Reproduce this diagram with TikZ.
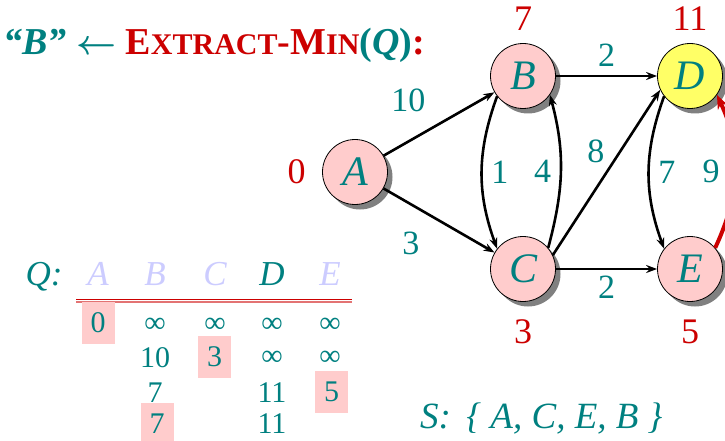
\documentclass[tikz,border=0pt]{standalone}
\usepackage{fontspec}
\setmainfont{Liberation Serif}
\usepackage{tikz}
\usetikzlibrary{arrows.meta, positioning, shadows}
\definecolor{djteal}{RGB}{0,128,128}
\definecolor{djred}{RGB}{204,0,0}
\definecolor{djpink}{RGB}{255,204,204}
\definecolor{djyellow}{RGB}{255,255,102}
\definecolor{djlav}{RGB}{204,204,255}
\newcommand{\fsz}[1]{\fontsize{#1}{#1}\selectfont}
\tikzset{
  %% ---- graph ----
  vertex/.style  = {circle, draw=black, line width=0.8pt,
                    fill=#1, minimum size=65pt, inner sep=0pt,
                    text=djteal, font=\fsz{42}\itshape,
                    drop shadow={shadow xshift=5pt, shadow yshift=-5pt,
                                 fill=gray, opacity=1}},
  vertex/.default = djpink,
  dist/.style    = {text=djred, font=\fsz{36}},
  weight/.style  = {text=djteal, font=\fsz{34}},
  %% ---- queue table ----
  qhead/.style   = {text=#1, font=\fsz{35}\itshape, anchor=base},
  qhead/.default = djlav,
  qval/.style    = {text=djteal, font=\fsz{30}, inner sep=0pt,
                    minimum width=33pt, minimum height=42pt},
  qpick/.style   = {qval, fill=djpink},
  %% ---- arrows ----
  warrow/.style  = {-{Stealth[length=11pt, width=8pt]}, line width=2.6pt},
  redarrow/.style= {-{Stealth[length=14pt, width=11pt]}, line width=4pt,
                    color=djred},
}
\begin{document}
\begin{tikzpicture}[x=1pt, y=1pt]
\useasboundingbox (0,0) rectangle (725,440);
% title
\node[anchor=base west, inner sep=0pt, font=\fsz{38}\bfseries] (title) at (3,385)
  {\textcolor{djteal}{\itshape “B”} \textcolor{djteal}{\scalebox{1.4}{\boldmath$\leftarrow$}}
   \textcolor{djred}{E{\fsz{30}XTRACT}-M{\fsz{30}IN}}\textcolor{djteal}{(\textit{Q})}\textcolor{djred}{:}};
% graph
\node[vertex] (A) at (355,268) {A};
\node[vertex] (B) at (523,364) {B};
\node[vertex] (C) at (523,171) {C};
\node[vertex=djyellow] (D) at (690,364) {D};
\node[vertex] (E) at (690,171) {E};
\node[dist, left=13pt of A]  (dA) {0};
\node[dist, above=9pt of B]  (dB) {7};
\node[dist, below=14pt of C] (dC) {3};
\node[dist, above=9pt of D]  (dD) {11};
\node[dist, below=14pt of E] (dE) {5};
\draw[warrow] (A) -- node[weight, pos=0.385, xshift=-18pt, yshift=31pt]{10} (B);
\draw[warrow] (A) -- node[weight, pos=0.4, xshift=-17pt, yshift=-29pt]{3} (C);
\draw[warrow] (B) -- node[weight, yshift=21pt]{2} (D);
\draw[warrow] (C) -- node[weight, yshift=-18pt]{2} (E);
\draw[warrow] (C.25) -- node[weight, pos=0.56, xshift=-17pt, yshift=11pt]{8} (D.205);
\draw[warrow] (B.218) to[out=250, in=110] node[weight, xshift=18pt]{1} (C.142);
\draw[warrow] (C.40) to[out=75, in=285] node[weight, xshift=-18pt]{4} (B.325);
\draw[warrow] (D.218) to[out=250, in=110] node[weight, xshift=18pt]{7} (E.142);
\draw[redarrow] (E.40) to[out=65, in=295] node[weight, xshift=-24pt]{9} (D.325);
% queue
\node[qhead=djteal, anchor=base west] (qQ) at (22,155) {Q:};
\node[qhead] (qA) at (98,155)  {A};
\node[qhead] (qB) at (155,155) {B};
\node[qhead] (qC) at (215,155) {C};
\node[qhead=djteal] (qD) at (272,155) {D};
\node[qhead] (qE) at (330,155) {E};
\coordinate (ruleL) at (76,140);
\coordinate (ruleR) at (352,140);
\draw[djred, line width=1pt] ([yshift=1pt]ruleL) -- ([yshift=1pt]ruleR);
\draw[djred!55, line width=2pt] ([yshift=-1.5pt]ruleL) -- ([yshift=-1.5pt]ruleR);
\node[qpick] (a1) at (98,117)  {0};
\node[qval]  (b1) at (155,115) {∞};
\node[qval]  (c1) at (215,115) {∞};
\node[qval]  (d1) at (272,115) {∞};
\node[qval]  (e1) at (330,115) {∞};
\node[qval]  (b2) at (155,82)  {10};
\node[qpick] (c2) at (214.5,83) {3};
\node[qval]  (d2) at (272,82)  {∞};
\node[qval]  (e2) at (330,82)  {∞};
\node[qval]  (b3) at (155,47)  {7};
\node[qval]  (d3) at (272,47)  {11};
\node[qpick] (e3) at (331.5,48.5) {5};
\node[qpick] (b4) at (157,16)  {7};
\node[text=djteal, font=\fsz{30}, inner sep=1pt] (d4) at (272,16) {11};
% settled set
\node[anchor=base west, inner sep=0pt, text=djteal, font=\fsz{37}\itshape] (S) at (420,12)
  {S:\, \{ A, C, E, B \}};
\end{tikzpicture}
\end{document}
